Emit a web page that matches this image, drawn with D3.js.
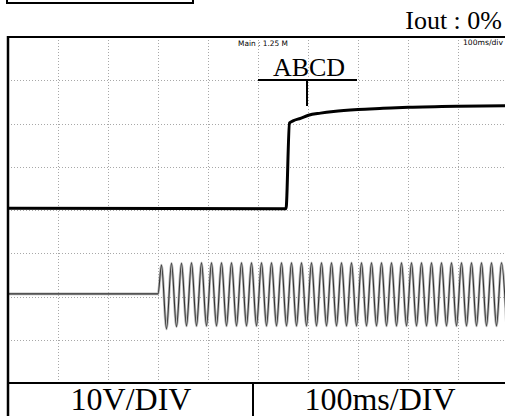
<!DOCTYPE html>
<html>
<head>
<meta charset="utf-8">
<script src="https://cdn.jsdelivr.net/npm/d3@7"></script>
<style>
  html, body { margin: 0; padding: 0; background: #fff; }
  svg { display: block; }
  .serif { font-family: "Liberation Serif", "Times New Roman", serif; fill: #000; }
  .small { font-family: "Liberation Sans Narrow", "DejaVu Sans Condensed", Arial, sans-serif; font-size: 7.5px; fill: #000; }
</style>
</head>
<body>
<div id="svg-container"></div>
<script>
////////////////////////////////////////////////////////////////////
////////////////////////////  Data  ////////////////////////////////
// time in ms (100ms/div), voltage in V (10V/div)
const stepTimes = [0, 556, 563, 570, 585, 601, 625, 651, 700, 750, 801, 901, 1000];
const stepValues = [0.4, 0.3, 20.1, 20.6, 21.2, 21.9, 22.4, 22.8, 23.25, 23.5, 23.75, 24.0, 24.1];

// channel 2: flat, then 50Hz sine (sampled at each peak / trough, every 10ms)
const acFlatTimes = [0, 300];
const acFlatValues = [-19.4, -19.4];
const acStart = 307;
const acStep = 10;
const acValues = [
  -12.7, -27.5, -12.3, -27.0, -12.3, -26.8, -12.2, -26.8, -12.2, -26.8,
  -12.2, -26.8, -12.2, -26.8, -12.2, -26.8, -12.2, -26.8, -12.2, -26.8,
  -12.2, -26.8, -12.2, -26.8, -12.2, -26.8, -12.2, -26.8, -12.2, -26.8,
  -12.2, -26.8, -12.2, -26.8, -12.2, -26.8, -12.2, -26.8, -12.2, -26.8,
  -12.2, -26.8, -12.2, -26.8, -12.2, -26.8, -12.2, -26.8, -12.2, -26.8,
  -12.2, -26.8, -12.2, -26.8, -12.2, -26.8, -12.2, -26.8, -12.2, -26.8,
  -12.2, -26.8, -12.2, -26.8, -12.2, -26.8, -12.2, -26.8, -12.2, -26.8
];

const xTicks = [0, 100, 200, 300, 400, 500, 600, 700, 800, 900, 1000];
const yTicks = [-40, -30, -20, -10, 0, 10, 20, 30, 40];

const titleText = "Iout : 0%";
const markerText = "ABCD";
const markerTime = 598;
const voltLabel = "10V/DIV";
const timeLabel = "100ms/DIV";

////////////////////////////////////////////////////////////////////
////////////////////////////  Init  ////////////////////////////////
const width = 505;
const height = 416;
const plot = { left: 8, top: 37, right: 508, bottom: 383 };

const svg = d3.select("#svg-container").append("svg")
  .attr("width", width).attr("height", height);

const x = d3.scaleLinear().domain([0, 1000]).range([plot.left, plot.right]);
const y = d3.scaleLinear().domain([-40, 40]).range([plot.bottom, plot.top]);

svg.append("clipPath").attr("id", "clip")
  .append("rect")
  .attr("x", plot.left).attr("y", plot.top)
  .attr("width", plot.right - plot.left).attr("height", plot.bottom - plot.top);

// grid
const grid = svg.append("g");
grid.selectAll(".vgrid")
  .data(xTicks.slice(1, -1))
  .enter().append("line")
  .attr("x1", d => x(d) + 0.5).attr("x2", d => x(d) + 0.5)
  .attr("y1", plot.top).attr("y2", plot.bottom)
  .attr("stroke", "#a8a8a8").attr("stroke-width", 1)
  .attr("stroke-dasharray", "1,2");
grid.selectAll(".hgrid")
  .data(yTicks.slice(1, -1))
  .enter().append("line")
  .attr("x1", plot.left).attr("x2", width)
  .attr("y1", d => Math.round(y(d)) + 0.5).attr("y2", d => Math.round(y(d)) + 0.5)
  .attr("stroke", "#a8a8a8").attr("stroke-width", 1)
  .attr("stroke-dasharray", "1,2");

// traces
const line = d3.line()
  .x(d => x(d[0]))
  .y(d => y(d[1]))
  .curve(d3.curveMonotoneX);

const stepData = stepTimes.map((t, i) => [t, stepValues[i]]);
const acData = acFlatTimes.map((t, i) => [t, acFlatValues[i]])
  .concat(acValues.map((v, i) => [acStart + i * acStep, v]));

const traces = svg.append("g").attr("clip-path", "url(#clip)");

traces.append("path")
  .datum(acData)
  .attr("d", line)
  .attr("fill", "none")
  .attr("stroke", "#b8b8b8")
  .attr("stroke-width", 2.6);
traces.append("path")
  .datum(acData)
  .attr("d", line)
  .attr("fill", "none")
  .attr("stroke", "#333")
  .attr("stroke-width", 1.1);

traces.append("path")
  .datum(stepData)
  .attr("d", line)
  .attr("fill", "none")
  .attr("stroke", "#000")
  .attr("stroke-width", 3);

// marker label
const mx = x(markerTime);
svg.append("text").attr("class", "serif")
  .attr("x", mx + 2).attr("y", 76)
  .attr("text-anchor", "middle")
  .style("font-size", "26px")
  .text(markerText);
svg.append("line")
  .attr("x1", 258).attr("x2", 357)
  .attr("y1", 80).attr("y2", 80)
  .attr("stroke", "#000").attr("stroke-width", 2);
svg.append("line")
  .attr("x1", mx).attr("x2", mx)
  .attr("y1", 80).attr("y2", 106)
  .attr("stroke", "#000").attr("stroke-width", 2);

// small scope readouts
svg.append("text").attr("class", "small")
  .attr("x", 238).attr("y", 46)
  .attr("textLength", 50).attr("lengthAdjust", "spacingAndGlyphs")
  .text("Main : 1.25 M");
svg.append("text").attr("class", "small")
  .attr("x", 463).attr("y", 45)
  .attr("textLength", 40).attr("lengthAdjust", "spacingAndGlyphs")
  .text("100ms/div");

// frame
const frame = svg.append("g").attr("stroke", "#000").attr("fill", "none");
frame.append("line").attr("x1", plot.left - 1).attr("x2", width)
  .attr("y1", plot.top).attr("y2", plot.top).attr("stroke-width", 2);
frame.append("line").attr("x1", plot.left).attr("x2", plot.left)
  .attr("y1", plot.top - 1).attr("y2", height).attr("stroke-width", 2.5);
frame.append("line").attr("x1", plot.left).attr("x2", width)
  .attr("y1", plot.bottom).attr("y2", plot.bottom).attr("stroke-width", 2);
frame.append("line").attr("x1", 253).attr("x2", 253)
  .attr("y1", plot.bottom).attr("y2", height).attr("stroke-width", 2);

// top box (cut off at the top edge)
frame.append("path")
  .attr("d", "M7,0 V3 H193 V0")
  .attr("stroke-width", 2);

// title
svg.append("text").attr("class", "serif")
  .attr("x", 502).attr("y", 29)
  .attr("text-anchor", "end")
  .style("font-size", "26px")
  .text(titleText);

// bottom labels
svg.append("text").attr("class", "serif")
  .attr("x", 131).attr("y", 410)
  .attr("text-anchor", "middle")
  .style("font-size", "32px")
  .text(voltLabel);
svg.append("text").attr("class", "serif")
  .attr("x", 380).attr("y", 410)
  .attr("text-anchor", "middle")
  .style("font-size", "32px")
  .text(timeLabel);
</script>
</body>
</html>
